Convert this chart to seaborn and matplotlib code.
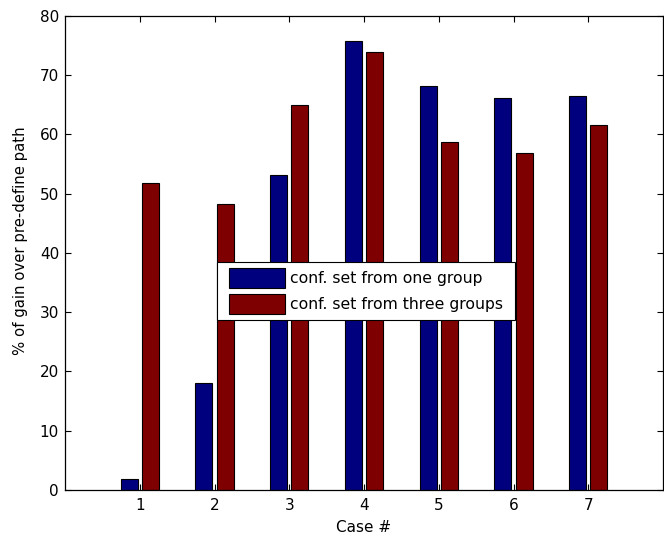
import matplotlib
matplotlib.use("Agg")
import matplotlib.pyplot as plt
import seaborn as sns
import pandas as pd
from matplotlib.patches import Patch, Rectangle
from matplotlib.legend_handler import HandlerPatch

# Gain per case for the two configuration-set strategies
cases = ["1", "2", "3", "4", "5", "6", "7"]
one_group = [1.8, 18.0, 53.1, 75.8, 68.1, 66.2, 66.5]
three_groups = [51.8, 48.2, 65.0, 73.9, 58.7, 56.9, 61.5]
series_names = ["conf. set from one group", "conf. set from three groups"]
colors = ["#00007F", "#7F0000"]
y_ticks = [0, 10, 20, 30, 40, 50, 60, 70, 80]

df = pd.DataFrame({
    "case": cases * 2,
    "gain": one_group + three_groups,
    "series": [series_names[0]] * len(cases) + [series_names[1]] * len(cases),
})

sns.set_style("white")
plt.rcParams["font.family"] = ["DejaVu Sans"]
plt.rcParams["text.color"] = "black"
plt.rcParams["axes.labelcolor"] = "black"
plt.rcParams["legend.labelcolor"] = "black"
FS = 11
LEG_FS = 11.25
px = 72 / 100  # points per pixel at 100 dpi

fig = plt.figure(figsize=(6.64, 5.40), dpi=100)
ax = fig.add_axes([0.0979, 0.0926, 0.9006, 0.8783])

sns.barplot(
    data=df, x="case", y="gain", hue="series", order=cases,
    hue_order=series_names, palette=colors, saturation=1,
    width=0.572, gap=0.2, edgecolor="black", linewidth=0.8,
    errorbar=None, ax=ax, legend=False,
)

ax.set_xlim(-1, 7)
ax.set_ylim(0, 80)
ax.set_yticks(y_ticks)
ax.set_yticklabels([str(t) for t in y_ticks])
ax.set_xlabel("Case #", fontsize=FS, labelpad=5.5, color="black")
ax.set_ylabel("% of gain over pre-define path", fontsize=10.7, color="black")
ax.yaxis.set_label_coords(-0.062, 0.526)

for s in ax.spines.values():
    s.set_visible(True)
    s.set_color("black")
    s.set_linewidth(0.9)

ax.tick_params(direction="in", length=4, width=0.8, top=True, right=True,
               bottom=True, left=True, labelsize=FS, colors="black")
ax.tick_params(axis="x", pad=5.5)
ax.tick_params(axis="y", pad=4.3)


class InsetSwatch(HandlerPatch):
    """Legend swatch shifted right inside its handle slot."""

    def __init__(self, shift, **kw):
        super().__init__(**kw)
        self.shift = shift

    def create_artists(self, legend, orig_handle, xdescent, ydescent,
                       width, height, fontsize, trans):
        p = Rectangle((-xdescent + self.shift, -ydescent),
                      width - self.shift, height,
                      facecolor=orig_handle.get_facecolor(),
                      edgecolor="black", linewidth=0.8, transform=trans)
        return [p]


handles = [Patch(facecolor=c, edgecolor="black", linewidth=0.8) for c in colors]
em = LEG_FS / px  # legend font size in pixels
shift_px = 6
# handle slot height is fs*hh minus its descent 0.35*fs*(hh-0.7)
hh = (20 / em - 0.245) / 0.65
leg = ax.legend(handles, series_names, loc="upper left",
                bbox_to_anchor=(0.2547, 0.38, 0.4978, 0.10), mode="expand",
                borderaxespad=0, fontsize=LEG_FS, frameon=True,
                fancybox=False, framealpha=1, labelcolor="black",
                handlelength=(56 + shift_px) / em, handleheight=hh,
                handletextpad=5 / em, labelspacing=6.2 / em,
                borderpad=5.8 / em,
                handler_map={Patch: InsetSwatch(shift_px * px)})
leg.get_frame().set_edgecolor("black")
leg.get_frame().set_linewidth(0.8)

fig.savefig("out.png", dpi=100)
